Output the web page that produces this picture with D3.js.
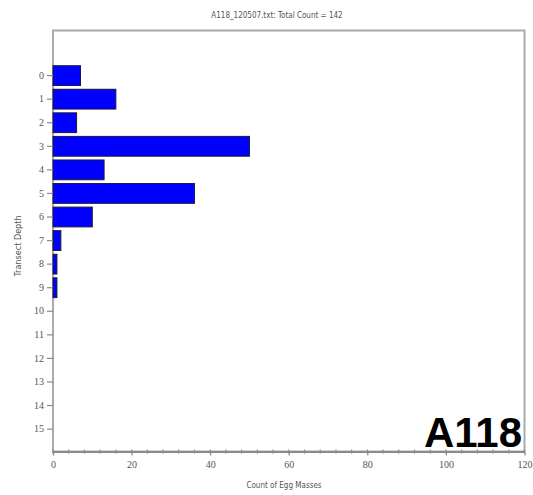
<!DOCTYPE html>
<html><head><meta charset="utf-8">
<script src="https://cdn.jsdelivr.net/npm/d3@7"></script>
<style>body{margin:0;background:#fff}svg{display:block}</style>
</head><body>
<script>
const depths = ["0","1","2","3","4","5","6","7","8","9","10","11","12","13","14","15"];
const counts = [7,16,6,50,13,36,10,2,1,1,0,0,0,0,0,0];
const xTicks = [0,20,40,60,80,100,120];
const titleText = "A118_120507.txt: Total Count = 142";
const xLabel = "Count of Egg Masses";
const yLabel = "Transect Depth";
const tag = "A118";

(function(){
const W=533,H=495;
const svg=d3.select("body").append("svg").attr("width",W).attr("height",H);
const mL=53,mR=524.5,mT=30.5,mB=451.5;
const x=d3.scaleLinear().domain([0,120]).range([mL,mR]);
const y=d3.scaleBand().domain(depths).range([65.7,439]).paddingInner(0.16).paddingOuter(0);

const gray="#8a8a8a", txt="#555";
svg.append("rect").attr("x",mL).attr("y",mT).attr("width",mR-mL).attr("height",mB-mT)
  .attr("fill","none").attr("stroke","#aaa").attr("stroke-width",2);

svg.append("g").selectAll("rect").data(depths.map((d,i)=>({d,v:counts[i]})).filter(o=>o.v>0))
 .join("rect").attr("x",x(0)).attr("y",o=>y(o.d)).attr("width",o=>x(o.v)-x(0)).attr("height",y.bandwidth())
 .attr("fill","#0000ff").attr("stroke","#1a1a40").attr("stroke-width",1);

const xa=d3.axisBottom(x).tickValues(xTicks).tickSize(4).tickSizeOuter(0).tickFormat(d3.format("d"));
const gx=svg.append("g").attr("transform",`translate(0,${mB})`).call(xa);
gx.select(".domain").attr("stroke",gray).attr("stroke-width",2);
gx.selectAll(".tick line").attr("stroke",gray).attr("stroke-width",1.2);
gx.selectAll(".tick text").attr("fill",txt).attr("font-family","Liberation Serif").attr("font-size",10).attr("dy","0.9em");
svg.append("g").selectAll("line").data(d3.range(0,121,4)).join("line")
 .attr("x1",d=>x(d)).attr("x2",d=>x(d)).attr("y1",mB-2).attr("y2",mB+2)
 .attr("stroke",gray).attr("stroke-width",1.2);

const ya=d3.axisLeft(y).tickSize(6).tickSizeOuter(0).tickPadding(3);
const gy=svg.append("g").attr("transform",`translate(${mL},0)`).call(ya);
gy.select(".domain").remove();
gy.selectAll(".tick line").attr("stroke",gray).attr("stroke-width",1.2);
gy.selectAll(".tick text").attr("fill",txt).attr("font-family","Liberation Serif").attr("font-size",10);

svg.append("text").attr("x",277).attr("y",18).attr("text-anchor","middle").attr("fill",txt)
 .attr("font-family","DejaVu Sans Condensed").attr("font-size",8).text(titleText);
svg.append("text").attr("x",284).attr("y",488).attr("text-anchor","middle").attr("fill",txt)
 .attr("font-family","DejaVu Sans Condensed").attr("font-size",8).text(xLabel);
svg.append("text").attr("transform","translate(21,246) rotate(-90)").attr("text-anchor","middle").attr("fill",txt)
 .attr("font-family","DejaVu Sans Condensed").attr("font-size",9).text(yLabel);

svg.append("text").attr("x",522).attr("y",447).attr("text-anchor","end").attr("fill","#000")
 .attr("font-family","Liberation Sans").attr("font-weight","bold").attr("font-size",42).text(tag);
})();
</script>
</body></html>
